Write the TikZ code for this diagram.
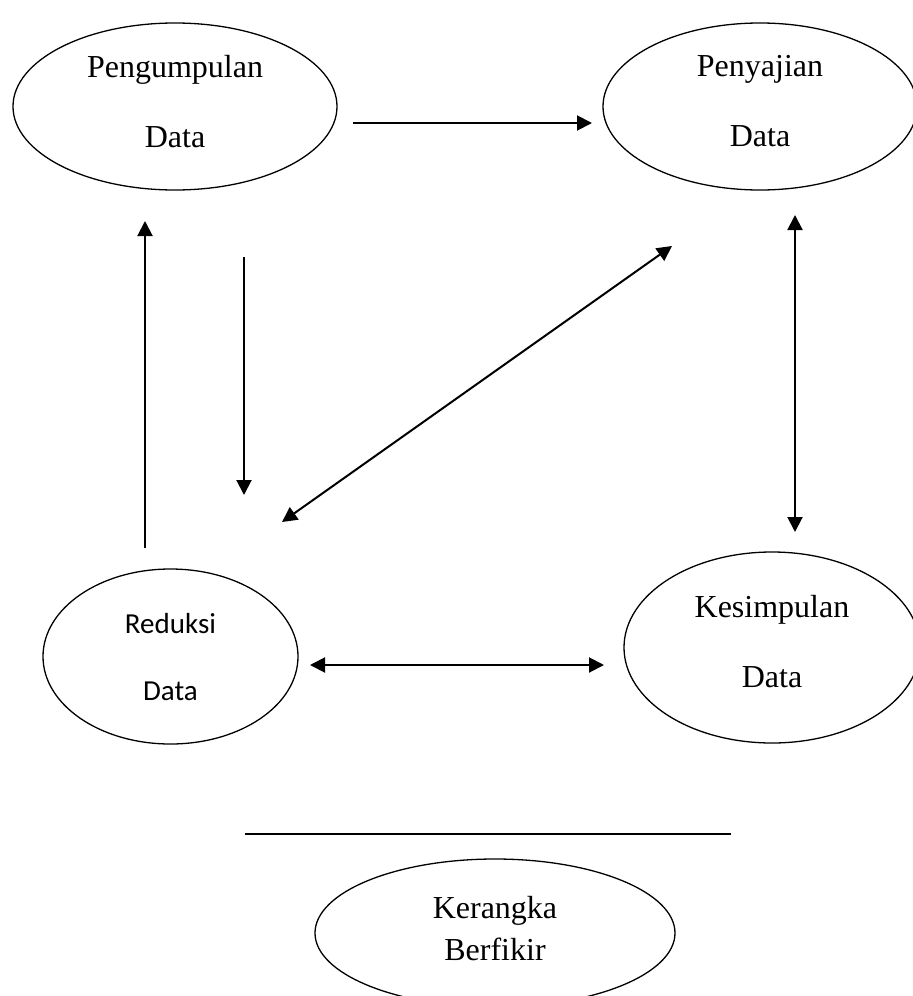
\documentclass[tikz,border=0pt]{standalone}
\usepackage{fontspec}
\setmainfont{Liberation Serif}
\newfontfamily\calibrifont{Carlito}
\usetikzlibrary{arrows.meta,shapes.geometric}

\tikzset{
    stage/.style={draw, ellipse, line width=1.3pt, inner sep=0pt, align=center,
        font=\fontsize{32}{70}\selectfont, text depth=11pt},
    flow/.style={line width=2pt, -{Triangle[length=15pt,width=15pt]}},
    twoway/.style={line width=2pt, {Triangle[length=15pt,width=15pt]}-{Triangle[length=15pt,width=15pt]}}
}

\begin{document}
\begin{tikzpicture}[x=1pt, y=-1pt]
    \clip (0,0) rectangle (913,996);
    \node[stage, minimum width=324pt, minimum height=167pt] (kumpul) at (175,106.5) {Pengumpulan\\Data};
    \node[stage, minimum width=314pt, minimum height=167pt] (saji) at (760,106.5) {Penyajian\\Data};
    \node[stage, minimum width=255pt, minimum height=175pt, text depth=0pt,
        font=\calibrifont\fontsize{29}{67}\selectfont] (reduksi) at (170.5,656.5) {Reduksi\\Data};
    \node[stage, minimum width=296pt, minimum height=191pt, text depth=13pt] (simpul) at (772,647.5) {Kesimpulan\\Data};
    \node[stage, minimum width=360pt, minimum height=148pt, text depth=10pt,
        font=\fontsize{32}{42}\selectfont] (kerangka) at (495,933) {Kerangka\\Berfikir};

    % ujung panah
    \coordinate (k1) at (353,123);   \coordinate (s1) at (592,123);
    \coordinate (k2) at (244,257);   \coordinate (r2) at (244,495);
    \coordinate (r3) at (145,548);   \coordinate (k3) at (145,221);
    \coordinate (r4) at (282,522);   \coordinate (s4) at (672,246);
    \coordinate (s5) at (795,215);   \coordinate (p5) at (795,532);
    \coordinate (r6) at (310,665);   \coordinate (p6) at (604,665);
    \coordinate (garisA) at (245,834); \coordinate (garisB) at (731,834);

    \draw[flow] (k1) -- (s1);
    \draw[flow] (k2) -- (r2);
    \draw[flow] (r3) -- (k3);
    \draw[twoway] (r4) -- (s4);
    \draw[twoway] (s5) -- (p5);
    \draw[twoway] (r6) -- (p6);
    \draw[line width=2pt] (garisA) -- (garisB);
\end{tikzpicture}
\end{document}
